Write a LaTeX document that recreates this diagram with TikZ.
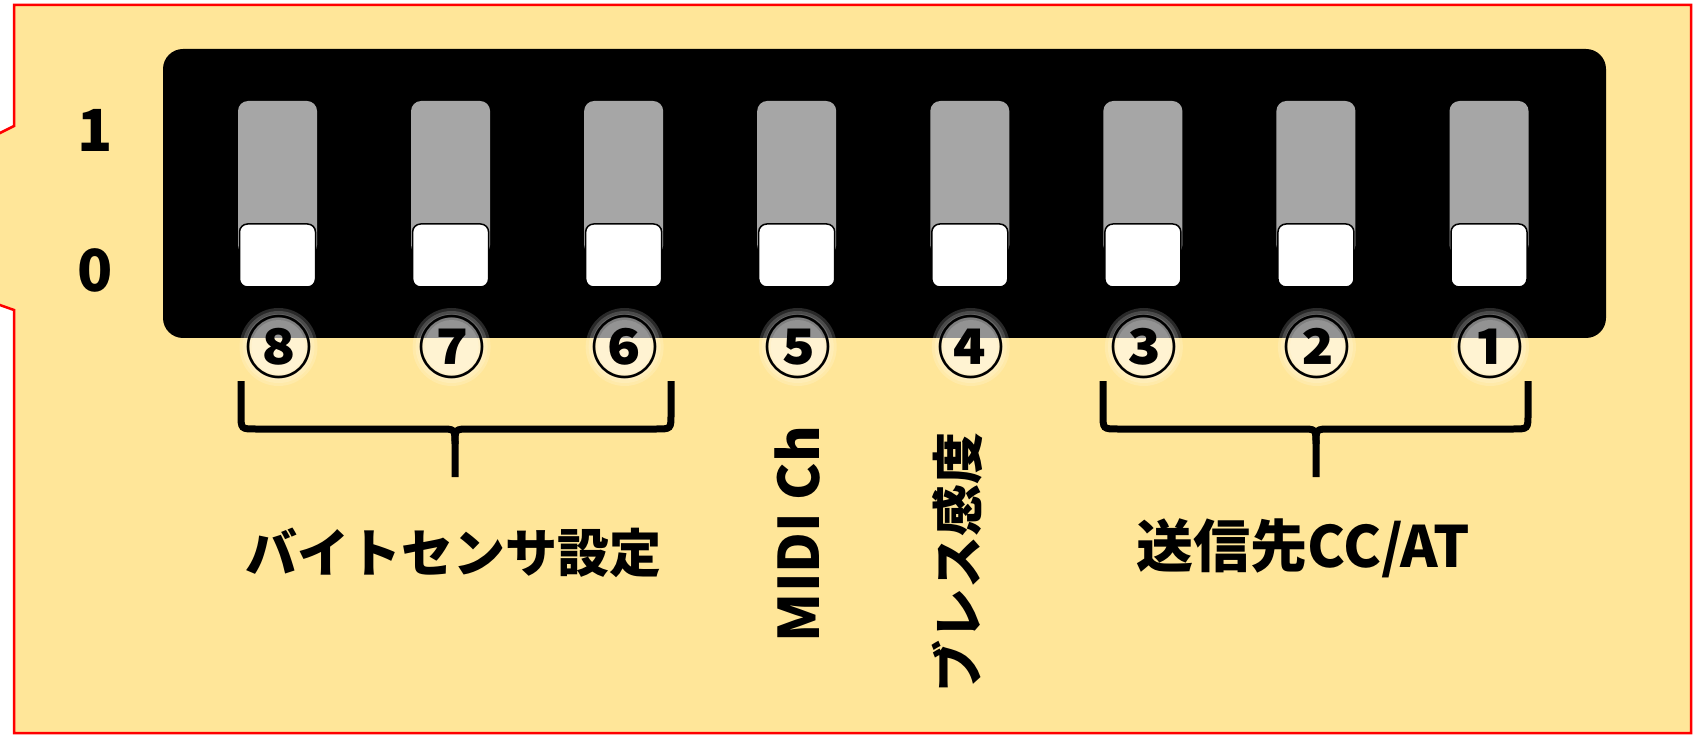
\documentclass[tikz,border=0pt]{standalone}
\usepackage{fontspec}
\setmainfont{Noto Sans CJK JP}
\newfontfamily\jp{Noto Sans CJK JP}
\definecolor{panel}{HTML}{FFE699}
\definecolor{lever}{HTML}{A6A6A6}
\tikzset{
  leverbox/.style={fill=lever, rounded corners=10pt, minimum width=79pt, minimum height=154pt, inner sep=0pt},
  knob/.style={fill=white, draw=black, line width=1.5pt, rounded corners=8pt, minimum width=76pt, minimum height=63pt, inner sep=0pt},
  numlabel/.style={font=\jp\bfseries\fontsize{67}{67}\selectfont, inner sep=0pt, text=black},
  biglabel/.style={font=\jp\bfseries\fontsize{52}{56}\selectfont, inner sep=0pt},
  digitlabel/.style={font=\jp\bfseries\fontsize{58}{60}\selectfont, inner sep=0pt},
  bracepath/.style={draw=black, line width=7pt},
}
\begin{document}
\begin{tikzpicture}[x=1pt,y=-1pt]
\useasboundingbox (0,0) rectangle (1703,735);
\clip (0,0) rectangle (1703,735);
% callout panel
\path[fill=panel, draw=red, line width=2.5pt, line join=miter]
  (14,5) -- (1691,5) -- (1691,733) -- (14,733) -- (14,310) -- (-20,298) -- (-20,143) -- (14,126) -- cycle;
% black base
\fill[black, rounded corners=20pt] (163,49) rectangle (1606,338);
% switches
\foreach \i/\c in {1/①,2/②,3/③,4/④,5/⑤,6/⑥,7/⑦,8/⑧} {
  \pgfmathsetmacro\cx{1489-(\i-1)*173.07}
  \node[leverbox] (lev\i) at (\cx,178) {};
  \node[knob] (knob\i) at (\cx,255.5) {};
  \foreach \r in {39,36,33,30,27} {\fill[white, opacity=0.16] (\cx+1,347) circle (\r pt);}
  \node[numlabel] (n\i) at (\cx+1,347) {\c};
}
% 1 / 0 labels
\node[digitlabel] (one) at (95,130) {1};
\node[digitlabel] (zero) at (95,270) {0};
% braces
\coordinate (bl1) at (241,381);
\coordinate (bl2) at (671,381);
\coordinate (blm) at (455,477);
\draw[bracepath] (bl1) -- (241,414) .. controls (241,429) .. (256,429) -- (440,429) .. controls (455,429) .. (455,444) -- (blm);
\draw[bracepath] (455,444) .. controls (455,429) .. (470,429) -- (656,429) .. controls (671,429) .. (671,414) -- (bl2);
\coordinate (br1) at (1103,381);
\coordinate (br2) at (1528,381);
\coordinate (brm) at (1316,477);
\draw[bracepath] (br1) -- (1103,414) .. controls (1103,429) .. (1118,429) -- (1301,429) .. controls (1316,429) .. (1316,444) -- (brm);
\draw[bracepath] (1316,444) .. controls (1316,429) .. (1331,429) -- (1513,429) .. controls (1528,429) .. (1528,414) -- (br2);
% labels
\node[biglabel] (byte) at (453,553) {バイトセンサ設定};
\node[biglabel, font=\jp\bfseries\fontsize{57}{60}\selectfont] (dest) at (1303,548) {送信先CC/AT};
\node[biglabel, font=\jp\bfseries\fontsize{56}{60}\selectfont, rotate=90] (midi) at (798,534) {MIDI Ch};
\node[biglabel, rotate=90] (breath) at (957,562) {ブレス感度};
\end{tikzpicture}
\end{document}
